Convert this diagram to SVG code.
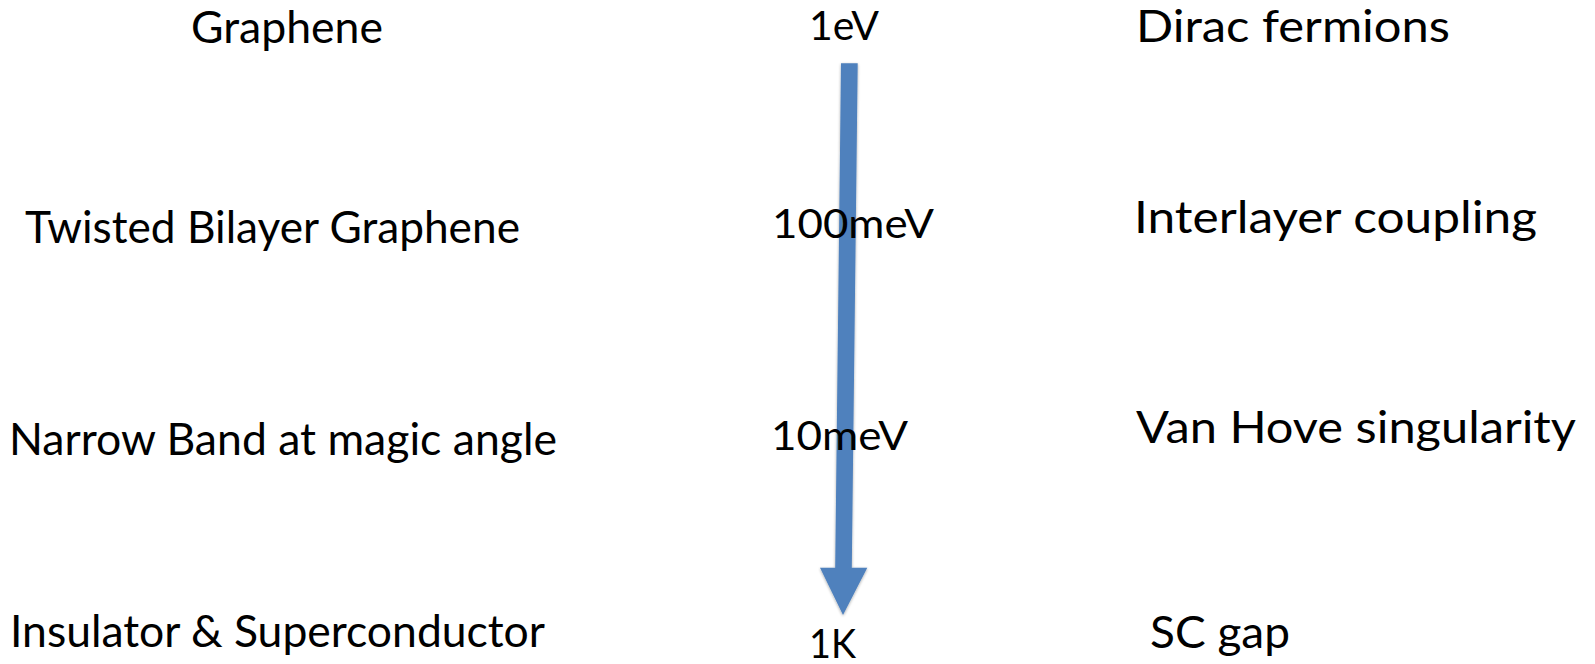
<svg xmlns="http://www.w3.org/2000/svg" width="1595" height="664" viewBox="0 0 1595 664">
  <style>
    .lbl { font-family: Lato, "Open Sans", "Liberation Sans", sans-serif; font-size: 44px; fill: #000; }
    .val { font-family: Lato, "Open Sans", "Liberation Sans", sans-serif; font-size: 41px; fill: #000; }
    .arrow { fill: #4F81BD; }
  </style>
  <defs>
    <filter id="soft-shadow" x="-50%" y="-5%" width="200%" height="110%">
      <feGaussianBlur in="SourceAlpha" stdDeviation="1.5"/>
      <feOffset dx="0" dy="1" result="b"/>
      <feComponentTransfer><feFuncA type="linear" slope="0.35"/></feComponentTransfer>
      <feMerge><feMergeNode/><feMergeNode in="SourceGraphic"/></feMerge>
    </filter>
  </defs>
  <rect width="1595" height="664" fill="#ffffff"/>

  <!-- energy-scale arrow running down the middle column -->
  <g id="connectors">
    <path class="arrow" filter="url(#soft-shadow)"
          d="M841,63.3 L857.7,63.3 L851.8,567.7 L867.3,567.7 L843,615 L820,567.7 L835.2,567.7 Z"/>
  </g>

  <!-- row 1 -->
  <g id="graphene"><text class="lbl" x="191" y="43" textLength="192" lengthAdjust="spacingAndGlyphs">Graphene</text></g>
  <g id="scale-1ev"><text class="val" x="809" y="40" textLength="70" lengthAdjust="spacingAndGlyphs">1eV</text></g>
  <g id="dirac"><text class="lbl" x="1136" y="42" textLength="314" lengthAdjust="spacingAndGlyphs">Dirac fermions</text></g>

  <!-- row 2 -->
  <g id="tbg"><text class="lbl" x="25" y="243" textLength="495" lengthAdjust="spacingAndGlyphs">Twisted Bilayer Graphene</text></g>
  <g id="scale-100mev"><text class="val" x="772" y="238" textLength="162" lengthAdjust="spacingAndGlyphs">100meV</text></g>
  <g id="interlayer"><text class="lbl" x="1134" y="233" textLength="403" lengthAdjust="spacingAndGlyphs">Interlayer coupling</text></g>

  <!-- row 3 -->
  <g id="narrow-band"><text class="lbl" x="9" y="455" textLength="548" lengthAdjust="spacingAndGlyphs">Narrow Band at magic angle</text></g>
  <g id="scale-10mev"><text class="val" x="771" y="450" textLength="137" lengthAdjust="spacingAndGlyphs">10meV</text></g>
  <g id="van-hove"><text class="lbl" x="1136" y="443" textLength="440" lengthAdjust="spacingAndGlyphs">Van Hove singularity</text></g>

  <!-- row 4 -->
  <g id="insulator-sc"><text class="lbl" x="10" y="647" textLength="535" lengthAdjust="spacingAndGlyphs">Insulator &amp; Superconductor</text></g>
  <g id="scale-1k"><text class="val" x="809" y="658" textLength="47" lengthAdjust="spacingAndGlyphs">1K</text></g>
  <g id="sc-gap"><text class="lbl" x="1150" y="648" textLength="140" lengthAdjust="spacingAndGlyphs">SC gap</text></g>
</svg>
